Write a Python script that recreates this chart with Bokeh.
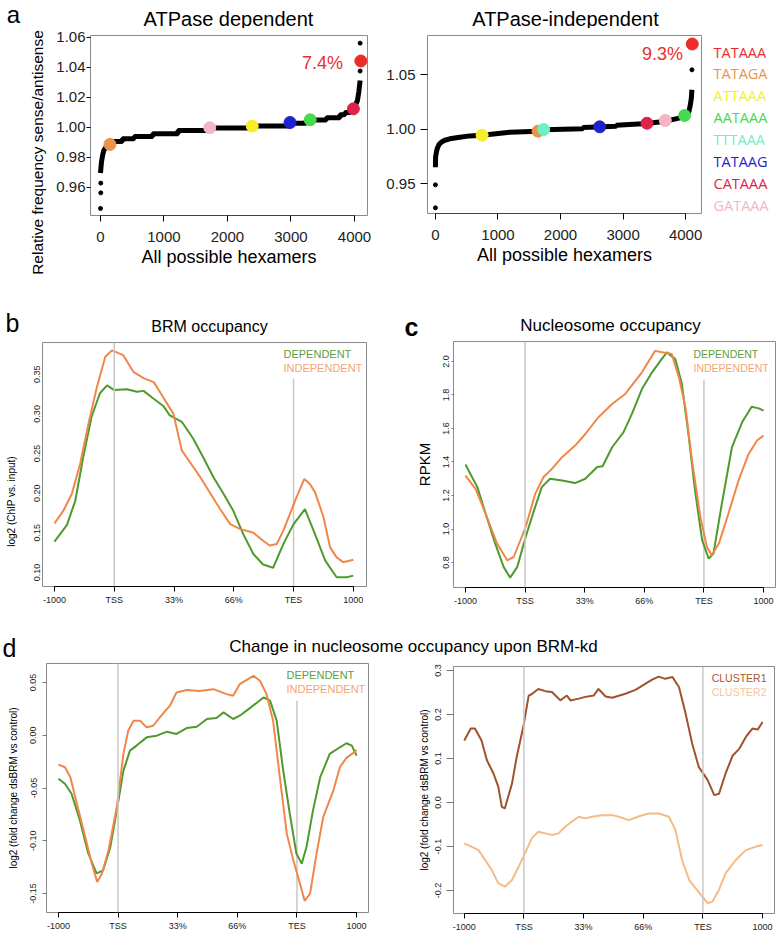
import math
from bokeh.plotting import figure
from bokeh.models import FixedTicker, Label, Span, Range1d, NumeralTickFormatter
from bokeh.layouts import row, column
from bokeh.embed import file_html
from bokeh.resources import INLINE

FONT = "Liberation Sans"

# ---------------- data: panel a ----------------
hex_ticks = [0, 1000, 2000, 3000, 4000]
dep_yticks = [0.96, 0.98, 1.00, 1.02, 1.04, 1.06]
ind_yticks = [0.95, 1.00, 1.05]

dep_curve_x = [0, 16, 32, 53, 106, 149, 186, 212, 345, 345, 531, 531, 823, 823, 1221, 1221,
               1700, 1700, 2337, 2337, 2974, 2974, 3240, 3240, 3558, 3558, 3771, 3771, 3850, 3850,
               3930, 3957, 4010, 4047, 4068, 4089]
dep_curve_y = [0.9696, 0.977, 0.981, 0.9847, 0.988, 0.9887, 0.9898, 0.9907, 0.9907, 0.9924,
               0.9924, 0.994, 0.994, 0.9958, 0.9958, 0.998, 0.998, 0.9997, 0.9997, 1.0009,
               1.0009, 1.0028, 1.0028, 1.0049, 1.0049, 1.0064, 1.0064, 1.0084, 1.0084, 1.0100,
               1.0100, 1.0118, 1.0145, 1.018, 1.0236, 1.0313]
dep_out_x = [0, 5, 5, 4089, 4089]
dep_out_y = [0.946, 0.9564, 0.9629, 1.0376, 1.0562]
dep_motif = ["TATAGA", "GATAAA", "ATTAAA", "TATAAG", "AATAAA", "CATAAA", "TATAAA"]
dep_motif_x = [149, 1721, 2390, 2985, 3303, 3983, 4100]
dep_motif_y = [0.9887, 0.9998, 1.0009, 1.0033, 1.0051, 1.0124, 1.0443]
dep_pct = "7.4%"

ind_curve_x = [0, 2, 16, 27, 59, 96, 149, 229, 389, 549, 746, 1188, 1640, 1731, 2359, 2359,
               2892, 2892, 3382, 3675, 3771, 3877, 3984, 4053, 4075, 4091, 4101]
ind_curve_y = [0.965, 0.9742, 0.979, 0.9818, 0.986, 0.9879, 0.9897, 0.991, 0.9925, 0.9937,
               0.9943, 0.9971, 0.998, 0.9993, 1.0002, 1.0015, 1.0025, 1.0035, 1.0050, 1.0072,
               1.0084, 1.0098, 1.0118, 1.016, 1.022, 1.028, 1.036]
ind_out_x = [0, 0, 4101]
ind_out_y = [0.9277, 0.9488, 1.0543]
ind_motif = ["ATTAAA", "TATAGA", "TTTAAA", "TATAAG", "CATAAA", "GATAAA", "AATAAA", "TATAAA"]
ind_motif_x = [746, 1640, 1731, 2626, 3382, 3675, 3984, 4106]
ind_motif_y = [0.9943, 0.9980, 0.9995, 1.0020, 1.0053, 1.0078, 1.0124, 1.0780]
ind_pct = "9.3%"

motifs = ["TATAAA", "TATAGA", "ATTAAA", "AATAAA", "TTTAAA", "TATAAG", "CATAAA", "GATAAA"]

# ---------------- data: profiles ----------------
profile_ticks = [0, 1, 2, 3, 4, 5]
profile_labels = ["-1000", "TSS", "33%", "66%", "TES", "1000"]

brm_yticks = [0.10, 0.15, 0.20, 0.25, 0.30, 0.35]
brm_dep_x = [0, 0.21, 0.35, 0.48, 0.62, 0.76, 0.88, 1.0, 1.21, 1.38, 1.49, 1.66, 1.82, 1.93, 2.13,
             2.32, 2.49, 2.66, 2.83, 2.99, 3.16, 3.33, 3.49, 3.66, 3.83, 4.0, 4.19, 4.36, 4.53,
             4.72, 4.89, 5.0]
brm_dep_y = [0.139, 0.160, 0.191, 0.245, 0.296, 0.326, 0.336, 0.330, 0.331, 0.328, 0.329, 0.319,
             0.310, 0.298, 0.290, 0.269, 0.245, 0.220, 0.199, 0.178, 0.148, 0.123, 0.110, 0.106,
             0.136, 0.161, 0.180, 0.148, 0.115, 0.094, 0.094, 0.096]
brm_ind_x = [0, 0.15, 0.29, 0.43, 0.57, 0.71, 0.85, 0.96, 1.15, 1.32, 1.49, 1.66, 1.82, 1.99,
             2.13, 2.44, 2.58, 2.77, 2.94, 3.10, 3.33, 3.49, 3.60, 3.72, 3.83, 3.94, 4.05, 4.18,
             4.27, 4.36, 4.50, 4.61, 4.72, 4.83, 5.0]
brm_ind_y = [0.162, 0.178, 0.199, 0.237, 0.288, 0.334, 0.372, 0.380, 0.374, 0.353, 0.345, 0.340,
             0.321, 0.300, 0.254, 0.220, 0.203, 0.180, 0.161, 0.155, 0.150, 0.140, 0.134, 0.136,
             0.153, 0.174, 0.195, 0.218, 0.212, 0.201, 0.170, 0.132, 0.119, 0.113, 0.116]
brm_tes_top = 0.3445

nuc_yticks = [0.8, 1.0, 1.2, 1.4, 1.6, 1.8, 2.0]
nuc_dep_x = [0, 0.2, 0.34, 0.5, 0.64, 0.75, 0.87, 1.01, 1.15, 1.28, 1.42, 1.62, 1.84, 2.01, 2.21,
             2.3, 2.46, 2.65, 2.79, 2.96, 3.13, 3.29, 3.38, 3.52, 3.63, 3.74, 3.85, 3.97, 4.08,
             4.16, 4.30, 4.47, 4.64, 4.80, 4.92, 5.0]
nuc_dep_y = [1.385, 1.25, 1.09, 0.913, 0.774, 0.710, 0.774, 0.952, 1.111, 1.25, 1.30, 1.29,
             1.274, 1.30, 1.37, 1.375, 1.488, 1.577, 1.686, 1.835, 1.935, 2.014, 2.054, 2.014,
             1.865, 1.567, 1.23, 0.933, 0.823, 0.853, 1.151, 1.488, 1.637, 1.73, 1.72, 1.706]
nuc_ind_x = [0, 0.17, 0.34, 0.53, 0.70, 0.81, 1.01, 1.17, 1.31, 1.45, 1.62, 1.84, 2.01, 2.23,
             2.46, 2.68, 2.96, 3.18, 3.32, 3.46, 3.58, 3.69, 3.80, 3.94, 4.05, 4.13, 4.25, 4.41,
             4.58, 4.75, 4.89, 5.0]
nuc_ind_y = [1.319, 1.24, 1.09, 0.913, 0.813, 0.833, 1.012, 1.21, 1.31, 1.359, 1.429, 1.498,
             1.567, 1.667, 1.746, 1.806, 1.935, 2.063, 2.054, 2.044, 1.905, 1.726, 1.409, 1.071,
             0.893, 0.843, 0.913, 1.091, 1.29, 1.448, 1.528, 1.558]
nuc_tes_top = 1.891

chg_yticks = [-0.15, -0.10, -0.05, 0.00, 0.05]
chg_dep_x = [0, 0.11, 0.22, 0.36, 0.50, 0.64, 0.75, 0.87, 0.98, 1.09, 1.20, 1.31, 1.48, 1.65,
             1.82, 1.98, 2.15, 2.32, 2.49, 2.65, 2.77, 2.93, 3.04, 3.21, 3.44, 3.55, 3.66, 3.77,
             3.88, 3.99, 4.08, 4.16, 4.27, 4.39, 4.55, 4.72, 4.83, 4.92, 5.0]
chg_dep_y = [-0.0413, -0.046, -0.0555, -0.0807, -0.112, -0.131, -0.128, -0.106, -0.071, -0.0335,
             -0.0146, -0.0098, -0.002, -0.0004, 0.0034, 0.0012, 0.0068, 0.008, 0.0154, 0.0163,
             0.0217, 0.0154, 0.0185, 0.0257, 0.0358, 0.0327, 0.0138, -0.0335, -0.0744, -0.112,
             -0.1217, -0.106, -0.071, -0.0398, -0.0177, -0.0114, -0.0076, -0.0098, -0.0193]
chg_ind_x = [0, 0.11, 0.20, 0.31, 0.45, 0.56, 0.65, 0.73, 0.84, 0.98, 1.09, 1.17, 1.26, 1.37,
             1.48, 1.59, 1.70, 1.87, 1.98, 2.15, 2.37, 2.60, 2.82, 2.93, 3.04, 3.27, 3.38, 3.49,
             3.60, 3.72, 3.83, 3.94, 4.05, 4.13, 4.22, 4.33, 4.44, 4.61, 4.72, 4.83, 4.94, 5.0]
chg_ind_y = [-0.0278, -0.0303, -0.0398, -0.065, -0.0965, -0.1217, -0.139, -0.131, -0.109,
             -0.068, -0.0177, 0.0043, 0.0138, 0.0138, 0.0075, 0.009, 0.0169, 0.028, 0.0405,
             0.0428, 0.042, 0.0437, 0.039, 0.0374, 0.0484, 0.0563, 0.0516, 0.039, 0.0138,
             -0.0429, -0.0933, -0.1186, -0.1406, -0.157, -0.150, -0.112, -0.0777, -0.0524,
             -0.0303, -0.0215, -0.017, -0.014]
chg_tes_top = 0.0327

clu_yticks = [-0.2, -0.1, 0.0, 0.1, 0.2, 0.3]
clu1_x = [0, 0.11, 0.18, 0.29, 0.38, 0.49, 0.57, 0.63, 0.68, 0.80, 0.88, 0.99, 1.08, 1.13, 1.24,
          1.36, 1.47, 1.61, 1.72, 1.78, 1.92, 2.03, 2.17, 2.25, 2.37, 2.48, 2.70, 2.87, 3.04,
          3.15, 3.26, 3.37, 3.49, 3.60, 3.71, 3.82, 3.93, 4.08, 4.19, 4.27, 4.38, 4.50, 4.61,
          4.72, 4.83, 4.92, 5.0]
clu1_y = [0.141, 0.168, 0.168, 0.141, 0.096, 0.066, 0.036, -0.0097, -0.0134, 0.043, 0.104,
          0.172, 0.243, 0.246, 0.258, 0.253, 0.251, 0.232, 0.243, 0.232, 0.236, 0.240, 0.243,
          0.258, 0.241, 0.238, 0.247, 0.256, 0.270, 0.279, 0.286, 0.281, 0.285, 0.262, 0.202,
          0.134, 0.081, 0.051, 0.0168, 0.020, 0.066, 0.107, 0.122, 0.149, 0.168, 0.166, 0.183]
clu2_x = [0, 0.12, 0.24, 0.35, 0.46, 0.57, 0.68, 0.80, 0.91, 1.02, 1.13, 1.24, 1.36, 1.47, 1.58,
          1.69, 1.80, 1.92, 2.03, 2.14, 2.31, 2.48, 2.59, 2.76, 2.93, 3.09, 3.26, 3.43, 3.54,
          3.65, 3.77, 3.88, 3.99, 4.08, 4.16, 4.27, 4.38, 4.55, 4.72, 4.89, 5.0]
clu2_y = [-0.0928, -0.1003, -0.108, -0.1305, -0.153, -0.183, -0.191, -0.176, -0.146, -0.115,
          -0.0814, -0.0663, -0.070, -0.0739, -0.070, -0.055, -0.0437, -0.0323, -0.036, -0.0323,
          -0.0286, -0.0286, -0.0323, -0.040, -0.031, -0.025, -0.025, -0.0323, -0.0626, -0.1305,
          -0.176, -0.195, -0.2136, -0.2287, -0.225, -0.198, -0.161, -0.1305, -0.108, -0.100,
          -0.0965]

# ---------------- styles ----------------
MOTIF_COLORS = {
    "TATAAA": "#EE2B2B", "TATAGA": "#E8944A", "ATTAAA": "#F7EE2A", "AATAAA": "#46DA4E",
    "TTTAAA": "#6CF0C4", "TATAAG": "#1E22CC", "CATAAA": "#E0224A", "GATAAA": "#F4B6C2",
}
GREEN = "#4E9A2C"
ORANGE = "#F0874A"
GREEN_T = "#5E9E3E"
ORANGE_T = "#F2A477"
C1 = "#A0522D"
C2 = "#F4BB87"
VLINE = "#C8C8C8"
BOX = "#8A8A8A"


def make_fig(w, h, left, right, top, bottom, xr, yr):
    p = figure(width=w, height=h, x_range=Range1d(xr[0], xr[1]), y_range=Range1d(yr[0], yr[1]),
               output_backend="svg", toolbar_location=None, tools="",
               min_border_left=left, min_border_right=right,
               min_border_top=top, min_border_bottom=bottom, frame_align=False)
    p.grid.visible = False
    p.outline_line_color = BOX
    p.outline_line_width = 1
    p.background_fill_color = "white"
    p.border_fill_color = "white"
    p.axis.minor_tick_line_color = None
    p.axis.major_label_text_font = FONT
    p.axis.axis_label_text_font = FONT
    p.axis.axis_label_text_font_style = "normal"
    p.axis.axis_label_text_color = "black"
    p.axis.major_label_text_color = "#222222"
    p.axis.major_tick_in = 0
    return p


def strip(w, h):
    """Blank canvas (frame == canvas) used for titles, panel letters, legends."""
    f = figure(width=w, height=h, x_range=Range1d(0, w), y_range=Range1d(0, h),
               output_backend="svg", toolbar_location=None, tools="", min_border=0,
               x_axis_location=None, y_axis_location=None, frame_align=False)
    f.grid.visible = False
    f.outline_line_color = None
    f.background_fill_color = "white"
    f.border_fill_color = "white"
    return f


def add_text(p, fl, fb, px, py, text, size, color="black", align="center",
             baseline="middle", angle=0.0, style="normal", font=FONT):
    """Place text at page position (px, py); (fl, fb) = page position of the frame's
    left / bottom edge."""
    p.add_layout(Label(x=px - fl, y=fb - py, x_units="screen", y_units="screen", text=text,
                       text_font_size=f"{size}px", text_color=color, text_align=align,
                       text_baseline=baseline, angle=angle, text_font=font,
                       text_font_style=style))


def style_hex_axes(p, yticks, ytick_out, ystandoff):
    p.xaxis.ticker = FixedTicker(ticks=hex_ticks)
    p.xaxis.bounds = (hex_ticks[0], hex_ticks[-1])
    p.xaxis.major_tick_out = 6
    p.xaxis.major_label_standoff = 10
    p.xaxis.major_label_text_font_size = "15px"
    p.xaxis.axis_label = "All possible hexamers"
    p.xaxis.axis_label_text_font_size = "18px"
    p.xaxis.axis_label_standoff = 2
    p.xaxis.axis_line_color = "#444444"
    p.yaxis.ticker = FixedTicker(ticks=yticks)
    p.yaxis.formatter = NumeralTickFormatter(format="0.00")
    p.yaxis.axis_line_color = None
    p.yaxis.major_tick_out = ytick_out
    p.yaxis.major_label_standoff = ystandoff
    p.yaxis.major_label_text_font_size = "15px"


def draw_hex(p, cx, cy, ox, oy, mnames, mx, my):
    p.line(cx, cy, line_color="black", line_width=5)
    p.scatter(ox, oy, size=4, color="black")
    cols = [MOTIF_COLORS[m] for m in mnames]
    p.scatter(mx, my, size=12, fill_color=cols, line_color=cols)


def style_profile_axes(p, yticks, fmt, ytick_out, ystandoff):
    p.xaxis.ticker = FixedTicker(ticks=profile_ticks)
    p.xaxis.major_label_overrides = dict(zip(profile_ticks, profile_labels))
    p.xaxis.bounds = (profile_ticks[0], profile_ticks[-1])
    p.xaxis.axis_line_color = "black"
    p.xaxis.major_tick_out = 5
    p.xaxis.major_label_standoff = 3
    p.xaxis.major_label_text_font_size = "9px"
    p.yaxis.ticker = FixedTicker(ticks=yticks)
    p.yaxis.formatter = NumeralTickFormatter(format=fmt)
    p.yaxis.axis_line_color = None
    p.yaxis.major_tick_out = ytick_out
    p.yaxis.major_tick_line_color = "#777777"
    p.yaxis.major_label_standoff = ystandoff
    p.yaxis.major_label_orientation = "vertical"
    p.yaxis.major_label_text_font_size = "9px"


def vlines(p, tes_top):
    p.add_layout(Span(location=profile_ticks[1], dimension="height", line_color=VLINE,
                      line_width=1.5))
    if tes_top is None:
        p.add_layout(Span(location=profile_ticks[4], dimension="height", line_color=VLINE,
                          line_width=1.5))
    else:
        p.segment(x0=[profile_ticks[4]], y0=[p.y_range.start], x1=[profile_ticks[4]],
                  y1=[tes_top], line_color=VLINE, line_width=1.5)


# ================= Row 1: panel a (page y 0..286) =================
s1 = strip(778, 28)                       # page y 0..28
add_text(s1, 0, 28, 13, 14, "a", 24)
add_text(s1, 0, 28, 228, 18, "ATPase dependent", 20)
add_text(s1, 0, 28, 565, 18, "ATPase-independent", 20)

ylab_a = strip(50, 258)                   # page x 0..50, y 28..286
add_text(ylab_a, 0, 286, 37, 152, "Relative frequency sense/antisense", 15.5,
         angle=math.pi / 2)

# a-left: page x 50..383 ; frame 90..367 x 35..215
pal = make_fig(333, 258, 40, 16, 7, 71, (-157, 4205), (0.9413, 1.0613))
style_hex_axes(pal, dep_yticks, 4, 1)
draw_hex(pal, dep_curve_x, dep_curve_y, dep_out_x, dep_out_y, dep_motif, dep_motif_x, dep_motif_y)
add_text(pal, 90, 215, 322, 62, dep_pct, 18, color="#E8302A")

# a-right: page x 383..706 ; frame 425..701 x 35..213
par = make_fig(323, 258, 42, 5, 7, 73, (-127, 4254), (0.9225, 1.0858))
style_hex_axes(par, ind_yticks, 7, 5)
draw_hex(par, ind_curve_x, ind_curve_y, ind_out_x, ind_out_y, ind_motif, ind_motif_x, ind_motif_y)
add_text(par, 425, 213, 660, 53, ind_pct, 18, color="#E8302A")

leg_a = strip(72, 258)                    # page x 706..778, y 28..286
leg_y = [52, 73, 95, 117, 139, 161, 183, 205]
for m, yy in zip(motifs, leg_y):
    add_text(leg_a, 706, 286, 713, yy, m, 14.5, color=MOTIF_COLORS[m], align="left",
             font="Open Sans")

# ================= Row 2: panels b, c (page y 286..615) =================
s2 = strip(778, 54)                       # page y 286..340
add_text(s2, 0, 340, 12, 322, "b", 25)
add_text(s2, 0, 340, 209, 326, "BRM occupancy", 16)
add_text(s2, 0, 340, 411, 326, "c", 25, style="bold")
add_text(s2, 0, 340, 610, 325, "Nucleosome occupancy", 17)

ylab_b = strip(28, 275)                   # page x 0..28, y 340..615
add_text(ylab_b, 0, 615, 11, 501, "log2 (ChIP vs. input)", 10, angle=math.pi / 2)

# b: page x 28..385 ; frame 42..366 x 342..586
pb = make_fig(357, 275, 14, 19, 2, 29, (-0.2, 5.22), (0.0823, 0.390))
style_profile_axes(pb, brm_yticks, "0.00", 0, 2)
vlines(pb, brm_tes_top)
pb.line(brm_dep_x, brm_dep_y, line_color=GREEN, line_width=2)
pb.line(brm_ind_x, brm_ind_y, line_color=ORANGE, line_width=2)
add_text(pb, 42, 586, 283, 353, "DEPENDENT", 11, color=GREEN_T, align="left")
add_text(pb, 42, 586, 283, 367, "INDEPENDENT", 11, color=ORANGE_T, align="left")

# c: page x 385..778 ; frame 453..775 x 341..587
pc = make_fig(393, 275, 68, 3, 1, 28, (-0.2, 5.2), (0.651, 2.119))
style_profile_axes(pc, nuc_yticks, "0.0", 2, 2)
pc.yaxis.axis_label = "RPKM"
pc.yaxis.axis_label_text_font_size = "15px"
pc.yaxis.axis_label_standoff = 8
vlines(pc, nuc_tes_top)
pc.line(nuc_dep_x, nuc_dep_y, line_color=GREEN, line_width=2)
pc.line(nuc_ind_x, nuc_ind_y, line_color=ORANGE, line_width=2)
add_text(pc, 453, 587, 693, 353, "DEPENDENT", 10.5, color=GREEN_T, align="left")
add_text(pc, 453, 587, 693, 367, "INDEPENDENT", 10.5, color=ORANGE_T, align="left")

# ================= Row 3: panel d (page y 615..934) =================
s3 = strip(778, 45)                       # page y 615..660
add_text(s3, 0, 660, 9, 647, "d", 25)
add_text(s3, 0, 660, 413, 646, "Change in nucleosome occupancy upon BRM-kd", 17)

# d-left: page x 0..385 ; frame 46..368 x 663..912
pdl = make_fig(385, 274, 46, 17, 3, 22, (-0.2, 5.2), (-0.168, 0.068))
style_profile_axes(pdl, chg_yticks, "0.00", 4, 6)
pdl.yaxis.axis_label = "log2 (fold change dsBRM vs control)"
pdl.yaxis.axis_label_text_font_size = "10px"
pdl.yaxis.axis_label_standoff = 9
vlines(pdl, chg_tes_top)
pdl.line(chg_dep_x, chg_dep_y, line_color=GREEN, line_width=2)
pdl.line(chg_ind_x, chg_ind_y, line_color=ORANGE, line_width=2)
add_text(pdl, 46, 912, 286, 674, "DEPENDENT", 11, color=GREEN_T, align="left")
add_text(pdl, 46, 912, 286, 688, "INDEPENDENT", 11, color=ORANGE_T, align="left")

# d-right: page x 385..778 ; frame 453..774 x 666..914
pdr = make_fig(393, 274, 68, 4, 6, 20, (-0.18, 5.2), (-0.252, 0.309))
style_profile_axes(pdr, clu_yticks, "0.0", 7, 5)
pdr.yaxis.axis_label = "log2 (fold change dsBRM vs control)"
pdr.yaxis.axis_label_text_font_size = "10px"
pdr.yaxis.axis_label_standoff = 3
vlines(pdr, None)
pdr.line(clu1_x, clu1_y, line_color=C1, line_width=2)
pdr.line(clu2_x, clu2_y, line_color=C2, line_width=2)
add_text(pdr, 453, 914, 766, 678, "CLUSTER1", 10.5, color="#A5582C", align="right")
add_text(pdr, 453, 914, 766, 692, "CLUSTER2", 10.5, color="#F5C49A", align="right")

layout = column(
    s1,
    row(ylab_a, pal, par, leg_a),
    s2,
    row(ylab_b, pb, pc),
    s3,
    row(pdl, pdr),
)
open("out.html", "w").write(file_html(layout, INLINE))
